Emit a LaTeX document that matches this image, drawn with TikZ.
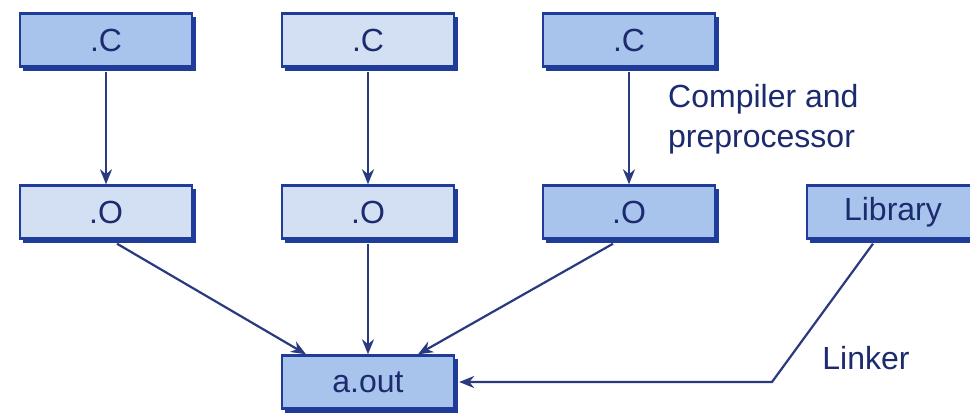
\documentclass[tikz,border=0pt]{standalone}
\usepackage{fontspec}
\setmainfont{Liberation Sans}
\usetikzlibrary{arrows.meta,calc}
\definecolor{boxfill}{HTML}{A9C4EC}
\definecolor{boxlight}{HTML}{D3E0F4}
\definecolor{boxedge}{HTML}{1F3C98}
\definecolor{ink}{HTML}{1C2A6E}
\definecolor{wire}{HTML}{2A3A80}
\tikzset{
  filebox/.style={draw=boxedge, line width=2.4pt, fill=boxfill, minimum width=172pt, minimum height=53pt,
    inner sep=0pt, text=ink, font=\fontsize{32}{36}\selectfont},
  lightbox/.style={filebox, fill=boxlight},
  conn/.style={draw=wire, line width=2.2pt, -{Stealth[length=15pt,width=12pt]}},
  lbl/.style={text=ink, font=\fontsize{32}{40}\selectfont, inner sep=0pt, align=left}
}
\begin{document}
\begin{tikzpicture}[x=1pt,y=-1pt]
\clip (0,0) rectangle (970,415);
\fill[white] (0,0) rectangle (970,415);
% shadows
\foreach \cx/\cy in {106/40,368/40,629/40,106/212,368/212,629/212,368/382,893/212}{
  \fill[boxedge] (\cx-83,\cy-23) rectangle (\cx+90,\cy+31);
}
% nodes
\node[filebox]  (c1) at (106,40) {.C};
\node[lightbox] (c2) at (368,40) {.C};
\node[filebox]  (c3) at (629,40) {.C};
\node[lightbox] (o1) at (106,212) {.O};
\node[lightbox] (o2) at (368,212) {.O};
\node[filebox]  (o3) at (629,212) {.O};
\node[filebox]  (lib) at (893,212) {Library};
\node[filebox]  (aout) at (368,382) {a.out};
\node[lbl, anchor=north west] (comp) at (668,84) {Compiler and\\preprocessor};
\node[lbl] (link) at (866,358) {Linker};
% connectors
\draw[conn] ($(c1.south)+(0,4)$) -- (o1.north);
\draw[conn] ($(c2.south)+(0,4)$) -- (o2.north);
\draw[conn] ($(c3.south)+(0,4)$) -- (o3.north);
\draw[conn] ($(o1.south)+(11,4)$) -- ($(aout.north)+(-62,0)$);
\draw[conn] ($(o2.south)+(0,4)$) -- (aout.north);
\draw[conn] ($(o3.south)+(-16,4)$) -- ($(aout.north)+(50,0)$);
\coordinate (bend) at (772,382);
\draw[conn] ($(lib.south)+(-20,4)$) -- (bend) -- ($(aout.east)+(4,0)$);
\end{tikzpicture}
\end{document}
